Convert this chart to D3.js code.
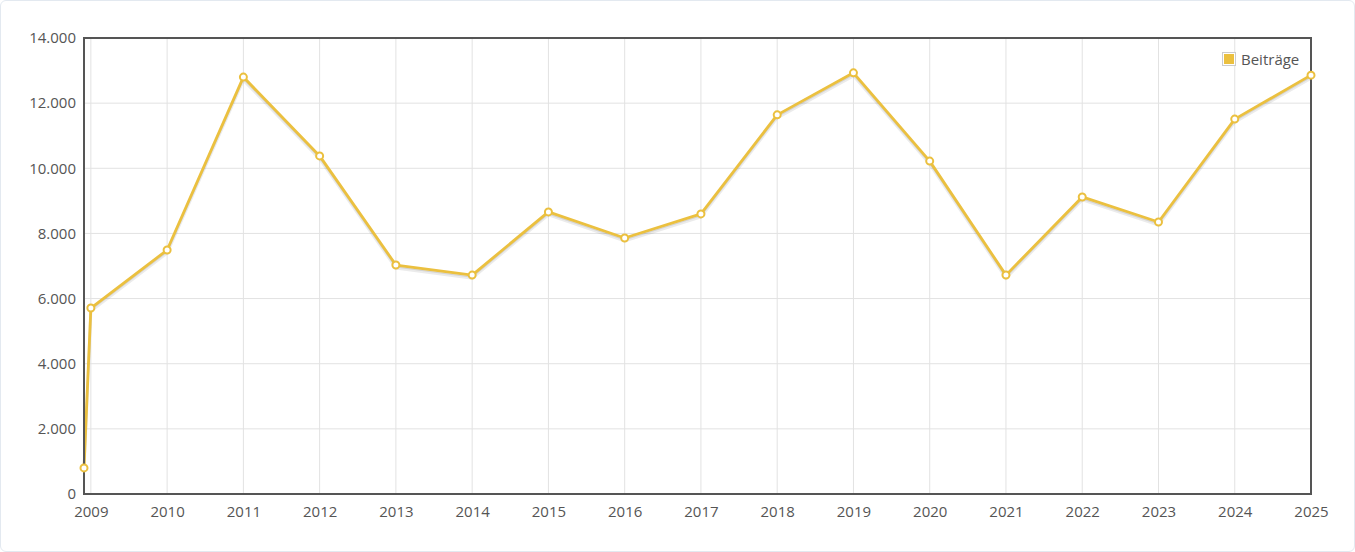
<!DOCTYPE html>
<html>
<head>
<meta charset="utf-8">
<title>Beiträge</title>
<script src="https://cdn.jsdelivr.net/npm/d3@7/dist/d3.min.js"></script>
<style>
  html, body { margin: 0; padding: 0; background: #fff; }
  body { font-family: "Open Sans", sans-serif; }
  .card {
    position: absolute; left: 0; top: 0; width: 1353px; height: 550px;
    border: 1px solid #e3e9f0; border-radius: 6px; background: #fff;
  }
  svg { position: absolute; left: 0; top: 0; }
  .tick text { fill: #555; font-size: 15px; font-family: "Open Sans", sans-serif; }
</style>
</head>
<body>
<div class="card"></div>
<svg id="chart" width="1355" height="552"></svg>
<script>
// data: year position (first point sits a bit before 2009) and value
const years = [2008.91, 2009, 2010, 2011, 2012, 2013, 2014, 2015, 2016, 2017,
               2018, 2019, 2020, 2021, 2022, 2023, 2024, 2025];
const beitraege = [800, 5710, 7490, 12800, 10380, 7030, 6720, 8660, 7860, 8600,
                   11640, 12930, 10220, 6720, 9120, 8350, 11510, 12860];
const xTicks = d3.range(2009, 2026);
const yTicks = [0, 2000, 4000, 6000, 8000, 10000, 12000, 14000];
const seriesName = "Beiträge";

const plotL = 84, plotR = 1311, plotT = 38, plotB = 494;
const color = "#ebc03f";

const svg = d3.select("#chart");
const x = d3.scaleLinear().domain([d3.min(years), 2025]).range([plotL, plotR]);
const y = d3.scaleLinear().domain([0, 14000]).range([plotB, plotT]);
const fmt = v => v === 0 ? "0" : d3.format(",")(v).replace(/,/g, ".");

// grid
svg.append("g").selectAll("line").data(xTicks).enter().append("line")
  .attr("x1", d => x(d)).attr("x2", d => x(d))
  .attr("y1", plotT).attr("y2", plotB)
  .attr("stroke", "#e2e2e2").attr("stroke-width", 1);
svg.append("g").selectAll("line").data(yTicks).enter().append("line")
  .attr("x1", plotL).attr("x2", plotR)
  .attr("y1", d => y(d)).attr("y2", d => y(d))
  .attr("stroke", "#e2e2e2").attr("stroke-width", 1);

// axes (labels only)
const xAxis = svg.append("g").attr("transform", `translate(0,${plotB})`)
  .call(d3.axisBottom(x).tickValues(xTicks).tickFormat(d3.format("d")).tickSize(0).tickPadding(12));
const yAxis = svg.append("g").attr("transform", `translate(${plotL},0)`)
  .call(d3.axisLeft(y).tickValues(yTicks).tickFormat(fmt).tickSize(0).tickPadding(8));
xAxis.select(".domain").remove();
yAxis.select(".domain").remove();

// line
const pts = years.map((yr, i) => [yr, beitraege[i]]);
const line = d3.line().x(d => x(d[0])).y(d => y(d[1]));

// shadow
svg.append("path").datum(pts).attr("d", line)
  .attr("transform", "translate(0,3)")
  .attr("fill", "none").attr("stroke", "rgba(0,0,0,0.08)").attr("stroke-width", 3);
svg.append("path").datum(pts).attr("d", line)
  .attr("transform", "translate(0,1.5)")
  .attr("fill", "none").attr("stroke", "rgba(0,0,0,0.1)").attr("stroke-width", 2);

svg.append("path").datum(pts).attr("d", line)
  .attr("fill", "none").attr("stroke", color).attr("stroke-width", 2.8)
  .attr("stroke-linejoin", "round");

// frame
svg.append("rect").attr("x", plotL).attr("y", plotT)
  .attr("width", plotR - plotL).attr("height", plotB - plotT)
  .attr("fill", "none").attr("stroke", "#555").attr("stroke-width", 2);

// points
svg.append("g").selectAll("circle").data(pts).enter().append("circle")
  .attr("cx", d => x(d[0])).attr("cy", d => y(d[1])).attr("r", 3.5)
  .attr("fill", "#fff").attr("stroke", color).attr("stroke-width", 2);

// legend
const lg = svg.append("g").attr("transform", "translate(1222,52)");
lg.append("rect").attr("x", 0.5).attr("y", 0.5).attr("width", 13).attr("height", 13)
  .attr("fill", "#fff").attr("stroke", "#ccc");
lg.append("rect").attr("x", 2).attr("y", 2).attr("width", 10).attr("height", 10)
  .attr("fill", color);
lg.append("text").attr("x", 19).attr("y", 12.5).text(seriesName)
  .attr("fill", "#555").attr("font-size", "15px");
</script>
</body>
</html>
